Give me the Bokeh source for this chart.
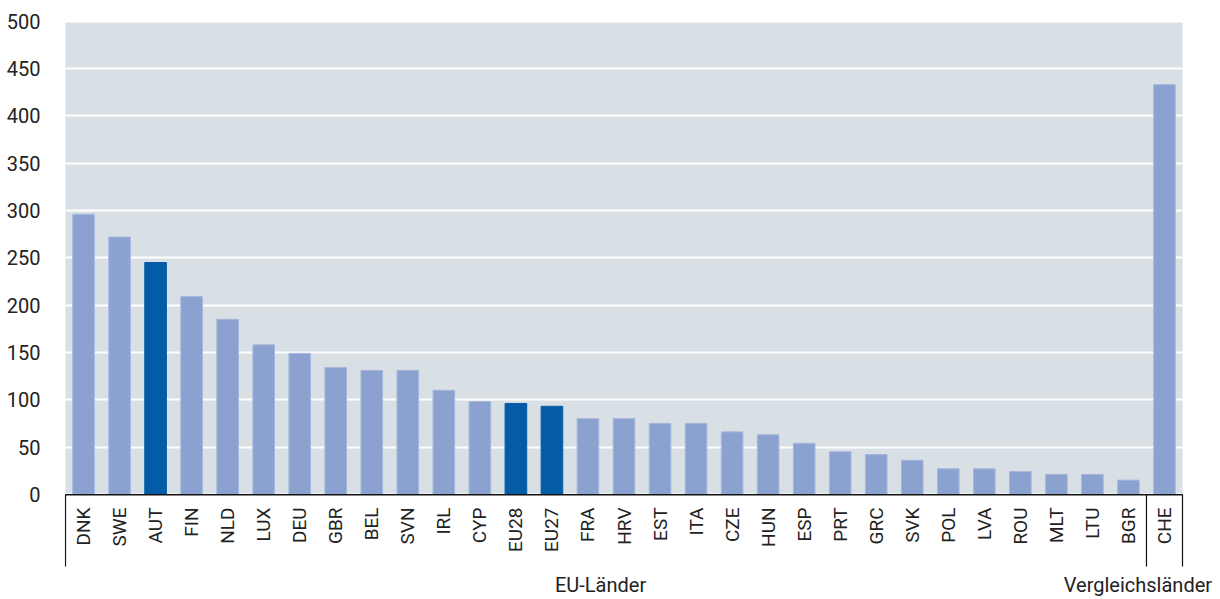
import math
from bokeh.plotting import figure
from bokeh.models import ColumnDataSource, Range1d, FixedTicker
from bokeh.core.properties import value
from bokeh.embed import file_html
from bokeh.resources import INLINE

categories = ["DNK", "SWE", "AUT", "FIN", "NLD", "LUX", "DEU", "GBR", "BEL", "SVN",
              "IRL", "CYP", "EU28", "EU27", "FRA", "HRV", "EST", "ITA", "CZE", "HUN",
              "ESP", "PRT", "GRC", "SVK", "POL", "LVA", "ROU", "MLT", "LTU", "BGR", "CHE"]
values = [296, 272, 245, 209, 185, 158, 149, 134, 131, 131,
          110, 98, 96, 93, 80, 80, 75, 75, 66, 63,
          54, 45, 42, 36, 27, 27, 24, 21, 21, 15, 433]
highlight = ["AUT", "EU28", "EU27"]
groups = ["EU-Länder", "Vergleichsländer"]
group_sizes = [30, 1]
y_ticks = [0, 50, 100, 150, 200, 250, 300, 350, 400, 450, 500]

FONT = "Roboto"
LIGHT = "#8ba2d0"
DARK = "#045ca7"
BG = "#d8e0e6"
TXT = "#222222"

n = len(categories)
px_per_cat = 1117 / n
x_start = -1 / px_per_cat
frame_w = 1156
x_end = x_start + frame_w / px_per_cat

px_per_unit = 0.946
frame_h = 589
y_end = (493.8 - 10) / px_per_unit
y_start = y_end - frame_h / px_per_unit

p = figure(width=1220, height=599, output_backend="svg", toolbar_location=None,
           x_range=Range1d(x_start, x_end), y_range=Range1d(y_start, y_end),
           x_axis_location=None, min_border_left=64, min_border_right=0,
           min_border_top=10, min_border_bottom=0)
p.outline_line_color = None
p.background_fill_color = "white"
p.border_fill_color = "white"
p.xgrid.visible = False

p.yaxis.ticker = FixedTicker(ticks=y_ticks)
p.yaxis.axis_line_color = None
p.yaxis.major_tick_line_color = None
p.yaxis.minor_tick_line_color = None
p.yaxis.major_label_text_font = FONT
p.yaxis.major_label_text_font_size = "20px"
p.yaxis.major_label_text_color = TXT
p.yaxis.major_label_standoff = 18

p.ygrid.ticker = FixedTicker(ticks=y_ticks)
p.ygrid.grid_line_color = "white"
p.ygrid.grid_line_width = 2

# grey plotting area
total = sum(group_sizes)
bg = p.quad(left=[0], right=[total], bottom=[0], top=[y_ticks[-1]],
            fill_color=BG, line_color=None)
bg.level = "image"

xs = [i + 0.5 for i in range(n)]
colors = [DARK if c in highlight else LIGHT for c in categories]
lcolors = [DARK if c in highlight else "#a7b7db" for c in categories]
src = ColumnDataSource(dict(x=xs, top=values, color=colors, lc=lcolors, cat=categories))
p.vbar(x="x", top="top", bottom=0, width=0.6, fill_color="color", line_color="lc",
       line_width=1, source=src)

# baseline
p.segment(x0=[0], x1=[total], y0=[-0.6], y1=[-0.6], line_color="#111111", line_width=1.5)

# category labels
label_y = (493.8 - 507) / px_per_unit
p.text(x="x", y=label_y, text="cat", source=src, angle=math.pi / 2,
       text_align="right", text_baseline="middle", text_font=value(FONT),
       text_font_size="19px", text_color=TXT)

# group separators and labels
sep_bottom = (493.8 - 566) / px_per_unit
bounds = [0]
for s in group_sizes:
    bounds.append(bounds[-1] + s)
p.segment(x0=bounds, x1=bounds, y0=[0] * len(bounds), y1=[sep_bottom] * len(bounds),
          line_color="#111111", line_width=1.2)

grp_y = (493.8 - 584.5) / px_per_unit
p.text(x=[14.85], y=[grp_y], text=[groups[0]], text_align="center",
       text_baseline="middle", text_font=value(FONT), text_font_size="20px",
       text_color=TXT)
p.text(x=[total + 0.82], y=[grp_y], text=[groups[1]], text_align="right",
       text_baseline="middle", text_font=value(FONT), text_font_size="20px",
       text_color=TXT)

open("out.html", "w").write(file_html(p, INLINE))
